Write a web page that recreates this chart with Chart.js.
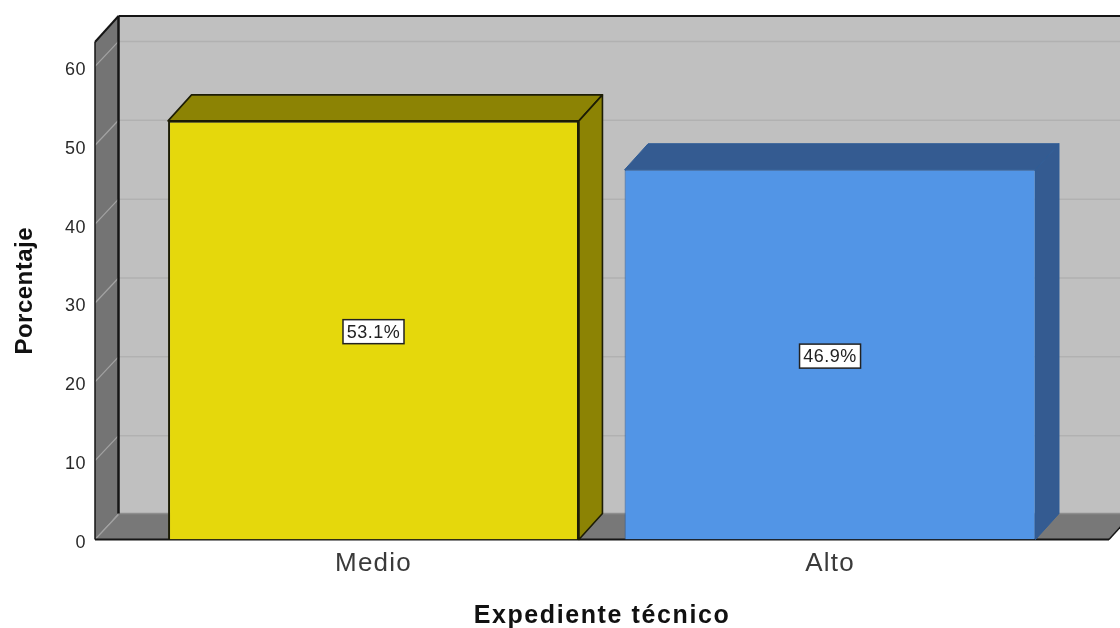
<!DOCTYPE html>
<html>
<head>
<meta charset="utf-8">
<title>Expediente técnico</title>
<script src="https://cdn.jsdelivr.net/npm/chart.js@4"></script>
<style>
  html, body { margin: 0; padding: 0; background: #fff; }
  canvas { display: block; }
</style>
</head>
<body>
<canvas id="grafico" width="1120" height="628"></canvas>
<script>
const categories = ['Medio', 'Alto']
const values = [53.1, 46.9]
const yTicks = [0, 10, 20, 30, 40, 50, 60]
const frontColors = ['#e5d80c', '#5295e6']
const sideColors = ['#8c8304', '#345b91']
const edgeColors = ['#1c1c05', '#2f5c96']

const FONT = '"Liberation Sans", Arial, sans-serif'
// depth of the fake 3d box, in pixels
const DX = 23.5
const DY = -26

const poly = (ctx, pts, fill, stroke, lw) => {
  ctx.beginPath()
  pts.forEach((p, i) => i ? ctx.lineTo(p[0], p[1]) : ctx.moveTo(p[0], p[1]))
  ctx.closePath()
  ctx.fillStyle = fill
  ctx.fill()
  if (stroke) {
    ctx.strokeStyle = stroke
    ctx.lineWidth = lw
    ctx.lineJoin = 'round'
    ctx.stroke()
  }
}

const line = (ctx, x1, y1, x2, y2, color, lw) => {
  ctx.beginPath()
  ctx.moveTo(x1, y1)
  ctx.lineTo(x2, y2)
  ctx.strokeStyle = color
  ctx.lineWidth = lw
  ctx.stroke()
}

// canvas letter spacing per axis, the reference text is stretched sideways
const spaceText = (chart, scale, labels, title) => {
  const ctx = chart.ctx
  const drawLabels = scale.drawLabels.bind(scale)
  const drawTitle = scale.drawTitle.bind(scale)
  scale.drawLabels = (area) => {
    ctx.letterSpacing = labels
    drawLabels(area)
    ctx.letterSpacing = '0px'
  }
  scale.drawTitle = (area) => {
    ctx.letterSpacing = title
    drawTitle(area)
    ctx.letterSpacing = '0px'
  }
}

const box3d = {
  id: 'box3d',
  beforeDraw(chart) {
    if (!chart.$spaced) {
      spaceText(chart, chart.scales.x, '1.2px', '1.6px')
      spaceText(chart, chart.scales.y, '0.5px', '0.5px')
      chart.$spaced = true
    }
    const { ctx, chartArea: a, scales } = chart
    const y = scales.y
    ctx.save()
    // back wall
    poly(ctx, [[a.left + DX, a.top + DY], [a.right + DX, a.top + DY], [a.right + DX, a.bottom + DY], [a.left + DX, a.bottom + DY]], '#c0c0c0')
    // side wall and floor
    poly(ctx, [[a.left, a.top], [a.left + DX, a.top + DY], [a.left + DX, a.bottom + DY], [a.left, a.bottom]], '#747474')
    poly(ctx, [[a.left, a.bottom], [a.right, a.bottom], [a.right + DX, a.bottom + DY], [a.left + DX, a.bottom + DY]], '#787878')
    // gridlines
    yTicks.forEach(t => {
      const py = y.getPixelForValue(t)
      if (t > 0) line(ctx, a.left + DX, py + DY + 1, a.right + DX, py + DY + 1, '#b1b1b1', 1.5)
      line(ctx, a.left, py, a.left + DX, py + DY + 1, '#a3a3a3', 1.2)
    })
    line(ctx, a.left + DX, a.bottom + DY, a.right + DX, a.bottom + DY, '#8e8e8e', 1.5)
    // frame
    line(ctx, a.left, a.top, a.left, a.bottom, '#151515', 1.5)
    line(ctx, a.left, a.top, a.left + DX, a.top + DY, '#151515', 2)
    line(ctx, a.left + DX, a.top + DY, a.left + DX, a.bottom + DY, '#151515', 2.5)
    line(ctx, a.left + DX, a.top + DY, a.right + DX, a.top + DY, '#151515', 2)
    line(ctx, a.left, a.bottom, a.right, a.bottom, '#151515', 2)
    line(ctx, a.right, a.bottom, a.right + DX, a.bottom + DY, '#151515', 1.5)
    ctx.restore()
  },
  beforeDatasetsDraw(chart) {
    const { ctx } = chart
    ctx.save()
    chart.getDatasetMeta(0).data.forEach((bar, i) => {
      const l = bar.x - bar.width / 2
      const r = bar.x + bar.width / 2
      const t = bar.y
      const b = bar.base
      const edge = edgeColors[i]
      const lw = i === 0 ? 1.6 : 1
      poly(ctx, [[l, t], [r, t], [r + DX, t + DY], [l + DX, t + DY]], sideColors[i], edge, lw)
      poly(ctx, [[r, t], [r + DX, t + DY], [r + DX, b + DY], [r, b]], sideColors[i], edge, lw)
    })
    ctx.restore()
  },
  afterDatasetsDraw(chart) {
    const { ctx, scales } = chart
    ctx.save()
    ctx.letterSpacing = '0.5px'
    ctx.font = '18px ' + FONT
    ctx.textAlign = 'center'
    ctx.textBaseline = 'middle'
    chart.getDatasetMeta(0).data.forEach((bar, i) => {
      const cy = scales.y.getPixelForValue(values[i] / 2) + 1.5
      const w = 61
      const h = 24
      ctx.fillStyle = '#fff'
      ctx.fillRect(bar.x - w / 2, cy - h / 2, w, h)
      ctx.strokeStyle = '#222'
      ctx.lineWidth = 1.5
      ctx.strokeRect(bar.x - w / 2, cy - h / 2, w, h)
      ctx.fillStyle = '#222'
      ctx.fillText(values[i].toFixed(1) + '%', bar.x, cy + 1)
    })
    ctx.restore()
  }
}

new Chart(document.getElementById('grafico').getContext('2d'), {
  type: 'bar',
  plugins: [box3d],
  data: {
    datasets: [{
      data: categories.map((c, i) => ({ x: i, y: values[i] })),
      backgroundColor: frontColors,
      borderColor: edgeColors,
      borderWidth: [2, 1],
      categoryPercentage: 1,
      barPercentage: 0.9
    }]
  },
  options: {
    responsive: false,
    animation: false,
    layout: { padding: { top: 42, right: 11, left: 0, bottom: 0 } },
    plugins: { legend: false, tooltip: { enabled: false } },
    scales: {
      x: {
        type: 'linear',
        offset: false,
        min: -0.61,
        max: 1.611,
        grid: { display: false },
        border: { display: false },
        afterBuildTicks: (scale) => { scale.ticks = categories.map((c, i) => ({ value: i })) },
        afterFit: (scale) => { scale.height = 88.5 },
        ticks: {
          autoSkip: false,
          maxRotation: 0,
          padding: 1,
          color: '#3a3a3a',
          font: { family: FONT, size: 26 },
          callback: (v) => categories[v]
        },
        title: {
          display: true,
          text: 'Expediente técnico',
          color: '#111',
          padding: { top: 0, bottom: -3 },
          font: { family: FONT, size: 25, weight: 'bold' }
        }
      },
      y: {
        min: 0,
        max: 63.1,
        grid: { display: false },
        border: { display: false },
        afterBuildTicks: (scale) => { scale.ticks = yTicks.map(v => ({ value: v })) },
        afterFit: (scale) => { scale.width = 95 },
        ticks: {
          padding: 1,
          labelOffset: 3.5,
          color: '#2a2a2a',
          font: { family: FONT, size: 18 }
        },
        title: {
          display: true,
          text: 'Porcentaje',
          color: '#111',
          padding: { top: 11, bottom: 0 },
          font: { family: FONT, size: 24, weight: 'bold' }
        }
      }
    }
  }
})
</script>
</body>
</html>
